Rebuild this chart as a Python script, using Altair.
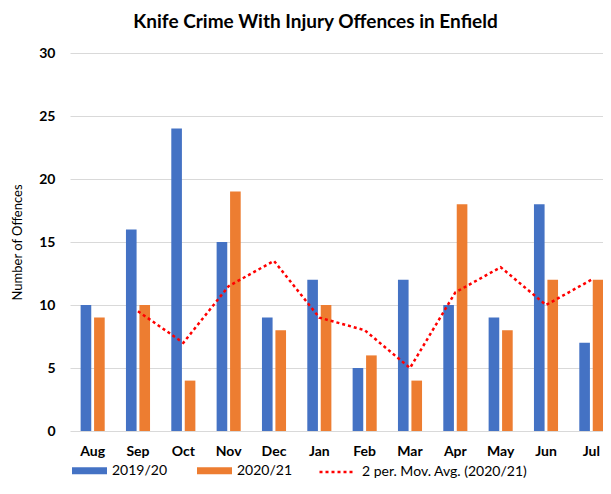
import altair as alt
import pandas as pd

months = ["Aug", "Sep", "Oct", "Nov", "Dec", "Jan", "Feb", "Mar", "Apr", "May", "Jun", "Jul"]
series_names = ["2019/20", "2020/21"]
values_1920 = [10, 16, 24, 15, 9, 12, 5, 12, 10, 9, 18, 7]
values_2021 = [9, 10, 4, 19, 8, 10, 6, 4, 18, 8, 12, 12]
mavg_label = "2 per. Mov. Avg. (2020/21)"
mavg_months = ["Sep", "Oct", "Nov", "Dec", "Jan", "Feb", "Mar", "Apr", "May", "Jun", "Jul"]
mavg_values = [9.5, 7, 11.5, 13.5, 9, 8, 5, 11, 13, 10, 12]
y_ticks = [0, 5, 10, 15, 20, 25, 30]
colors = ["#4472C4", "#ED7D31"]
line_color = "#FF0000"

bars_df = pd.DataFrame({
    "month": months * 2,
    "series": [series_names[0]] * len(months) + [series_names[1]] * len(months),
    "value": values_1920 + values_2021,
})
line_df = pd.DataFrame({"month": mavg_months, "avg": mavg_values, "label": mavg_label})

FONT = "Lato"
W, H = 533, 378

x_scale = alt.Scale(domain=months, range=[0, 544], paddingInner=0, paddingOuter=0)
x_enc = alt.X(
    "month:N", sort=months, scale=x_scale,
    axis=alt.Axis(title=None, labelFont=FONT, labelFontWeight="bold", labelFontSize=14,
                  labelColor="#000000", labelPadding=13, ticks=False, domain=False,
                  labelAngle=0, grid=False),
)
y_axis = alt.Axis(values=y_ticks, title="Number of Offences", titleFont=FONT, titleFontSize=13,
                  titleFontWeight="normal", titleColor="#000000", titlePadding=14,
                  labelFont=FONT, labelFontWeight="bold", labelFontSize=14, labelColor="#000000",
                  labelPadding=15, ticks=False, domain=False, gridColor="#d9d9d9", gridWidth=1)

bars = alt.Chart(bars_df).mark_bar().encode(
    x=x_enc,
    xOffset=alt.XOffset("series:N", sort=series_names,
                        scale=alt.Scale(paddingInner=0.21, paddingOuter=0.79)),
    y=alt.Y("value:Q", scale=alt.Scale(domain=[0, 30]), axis=y_axis),
    color=alt.Color("series:N", sort=series_names,
                    scale=alt.Scale(domain=series_names, range=colors),
                    legend=alt.Legend(title=None, orient="none", legendX=2, legendY=400,
                                      direction="horizontal", symbolType="M-1,-0.2H1V0.2H-1Z",
                                      symbolSize=1225, symbolStrokeWidth=0, symbolOpacity=1,
                                      labelFont=FONT, labelFontSize=14, labelColor="#000000",
                                      labelOffset=5, columnPadding=29, labelLimit=300)),
)

line = alt.Chart(line_df).mark_line(strokeDash=[3, 3], strokeWidth=2.5).encode(
    x=alt.X("month:N", sort=months, scale=x_scale),
    y=alt.Y("avg:Q"),
    color=alt.Color("label:N", scale=alt.Scale(domain=[mavg_label], range=[line_color]),
                    legend=alt.Legend(title=None, orient="none", legendX=248, legendY=400,
                                      direction="horizontal", symbolType="stroke",
                                      symbolSize=1225, symbolStrokeWidth=2.5, symbolDash=[3, 3],
                                      labelFont=FONT, labelFontSize=14, labelColor="#000000",
                                      labelOffset=6, labelLimit=400)),
)

chart = alt.layer(bars, line).resolve_scale(color="independent").properties(
    width=W, height=H,
    title=alt.TitleParams("Knife Crime With Injury Offences in Enfield", font=FONT, fontSize=19,
                          fontWeight="bold", color="#000000", anchor="middle", dx=-21, offset=14),
    autosize=alt.AutoSizeParams(type="none"),
    padding={"left": 62, "top": 45, "right": 0, "bottom": 47},
    background="white",
).configure_view(stroke=None)

chart.save("out.html", embed_options={"renderer": "svg", "actions": False})
